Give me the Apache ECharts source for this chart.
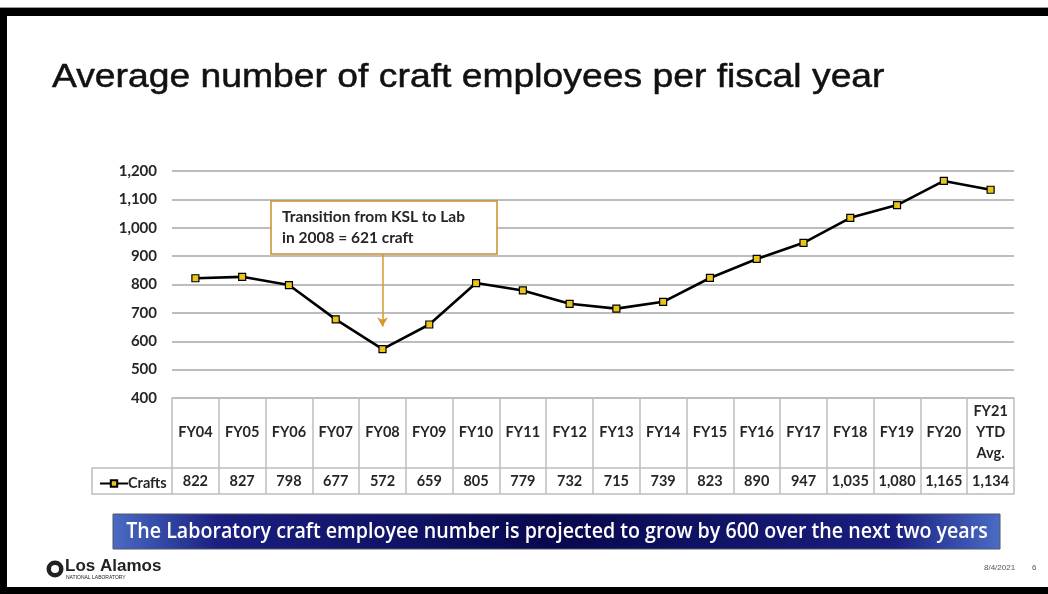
<!DOCTYPE html>
<html><head><meta charset="utf-8">
<script src="https://cdn.jsdelivr.net/npm/echarts@6/dist/echarts.min.js"></script>
<style>html,body{margin:0;padding:0;background:#fff}#c{width:1048px;height:594px}</style>
</head><body><div id="c"></div>
<script>
const categories = ['FY04','FY05','FY06','FY07','FY08','FY09','FY10','FY11','FY12','FY13','FY14','FY15','FY16','FY17','FY18','FY19','FY20','FY21\nYTD\nAvg.'];
const crafts = [822,827,798,677,572,659,805,779,732,715,739,823,890,947,1035,1080,1165,1134];
const seriesName = 'Crafts';
const titleText = 'Average number of craft employees per fiscal year';
const noteLines = ['Transition from KSL to Lab', 'in 2008 = 621 craft'];
const bannerText = 'The Laboratory craft employee number is projected to grow by 600 over the next two years';
const fmt = v => v.toLocaleString('en-US');

const chart = echarts.init(document.getElementById('c'), null, {renderer:'canvas'});
const F = 'Lato, "Open Sans", sans-serif';
const TXT = '#262626';
const GRIDC = '#bdbdbd';

chart.setOption({
  animation:false,
  backgroundColor:'#fff',
  grid:{left:172, right:34, top:171, bottom:196},
  legend:{
    left:94, top:471, itemWidth:28, itemHeight:8, itemGap:4,
    textStyle:{fontFamily:F, fontWeight:'bold', fontSize:14.5, color:TXT, padding:[0,0,0,-5]},
    data:[seriesName]
  },
  xAxis:[
    {type:'category', data:categories, position:'bottom',
     axisLine:{show:true, lineStyle:{color:GRIDC, width:1.5}},
     axisTick:{show:true, length:96, lineStyle:{color:GRIDC, width:1.5}},
     axisLabel:{margin:34, verticalAlign:'middle', lineHeight:21, interval:0,
       fontFamily:F, fontWeight:'bold', fontSize:14.5, color:TXT}},
    {type:'category', data:crafts.map(fmt), position:'bottom', offset:70,
     axisLine:{show:true, lineStyle:{color:GRIDC, width:1.5}},
     axisTick:{show:false},
     axisLabel:{margin:13, verticalAlign:'middle', interval:0,
       fontFamily:F, fontWeight:'bold', fontSize:14.5, color:TXT}},
    {type:'category', data:categories, position:'bottom', offset:96,
     axisLine:{show:true, lineStyle:{color:GRIDC, width:1.5}},
     axisTick:{show:false}, axisLabel:{show:false}}
  ],
  yAxis:{type:'value', min:400, max:1200, interval:100,
    axisLine:{show:false}, axisTick:{show:false},
    splitLine:{lineStyle:{color:GRIDC, width:1.8}},
    axisLabel:{margin:15, formatter:v=>fmt(v), fontFamily:F, fontWeight:'bold', fontSize:15, color:TXT}},
  series:[{
    name:seriesName, type:'line', data:crafts, xAxisIndex:0,
    symbol:'rect', symbolSize:7,
    lineStyle:{color:'#000', width:2.6},
    itemStyle:{color:'#e8c41c', borderColor:'#000', borderWidth:1.2},
    markLine:{silent:true, symbol:['none','arrow'], symbolSize:[8,9],
      label:{show:false},
      lineStyle:{color:'#d49a2a', width:1.5, type:'solid'},
      data:[[{coord:['FY08',907]},{coord:['FY08',652]}]]}
  }],
  graphic:[
    // frame
    {type:'rect', shape:{x:0,y:7,width:1048,height:1}, style:{fill:'#999'}},
    {type:'rect', shape:{x:0,y:8,width:1048,height:8}, style:{fill:'#000'}},
    {type:'rect', shape:{x:0,y:8,width:7,height:586}, style:{fill:'#000'}},
    {type:'rect', shape:{x:0,y:587,width:1048,height:7}, style:{fill:'#000'}},
    // title
    {type:'text', x:52, y:61, scaleX:1.13,
      style:{text:titleText, font:'33px "Liberation Sans", Arial, sans-serif', fill:'#111', stroke:'#111', lineWidth:0.5}},
    // table legend cell
    {type:'polyline', shape:{points:[[172,468],[92,468],[92,494],[172,494]]}, style:{stroke:GRIDC, lineWidth:1.5, fill:null}},
    // annotation box
    {type:'rect', shape:{x:271,y:201,width:226,height:53}, style:{fill:'#fff', stroke:'#c98f2c', lineWidth:1.5}, z:10},
    {type:'text', x:282, y:206, z:11, style:{text:noteLines.join('\n'), lineHeight:21, font:'bold 15.5px Lato, sans-serif', fill:TXT}},
    // banner
    {type:'rect', shape:{x:113,y:514,width:887,height:35},
      style:{stroke:'#556', lineWidth:1,
        fill:new echarts.graphic.LinearGradient(0,0,1,0,[
          {offset:0,color:'#4a6cc4'},{offset:0.12,color:'#1a1f80'},{offset:0.5,color:'#08084e'},
          {offset:0.88,color:'#1a1f80'},{offset:1,color:'#4a6cc4'}])}},
    {type:'text', x:557, y:532, scaleX:0.935, style:{text:bannerText, align:'center', verticalAlign:'middle',
      font:'600 21px "Open Sans", sans-serif', fill:'#fff'}},
    // logo
    {type:'circle', shape:{cx:55,cy:569,r:8.5}, style:{fill:'#222'}},
    {type:'circle', shape:{cx:55,cy:569,r:4}, style:{fill:'#fff'}},
    {type:'text', x:65, y:558, style:{text:'Los Alamos', font:'bold 17px "Liberation Sans", sans-serif', fill:'#222'}},
    {type:'text', x:66, y:575, style:{text:'NATIONAL LABORATORY', font:'5px "Liberation Sans", sans-serif', fill:'#222'}},
    {type:'text', x:984, y:564, style:{text:'8/4/2021', font:'8px "Liberation Sans", sans-serif', fill:'#555'}},
    {type:'text', x:1032, y:564, style:{text:'6', font:'8px "Liberation Sans", sans-serif', fill:'#555'}}
  ]
});
</script></body></html>
